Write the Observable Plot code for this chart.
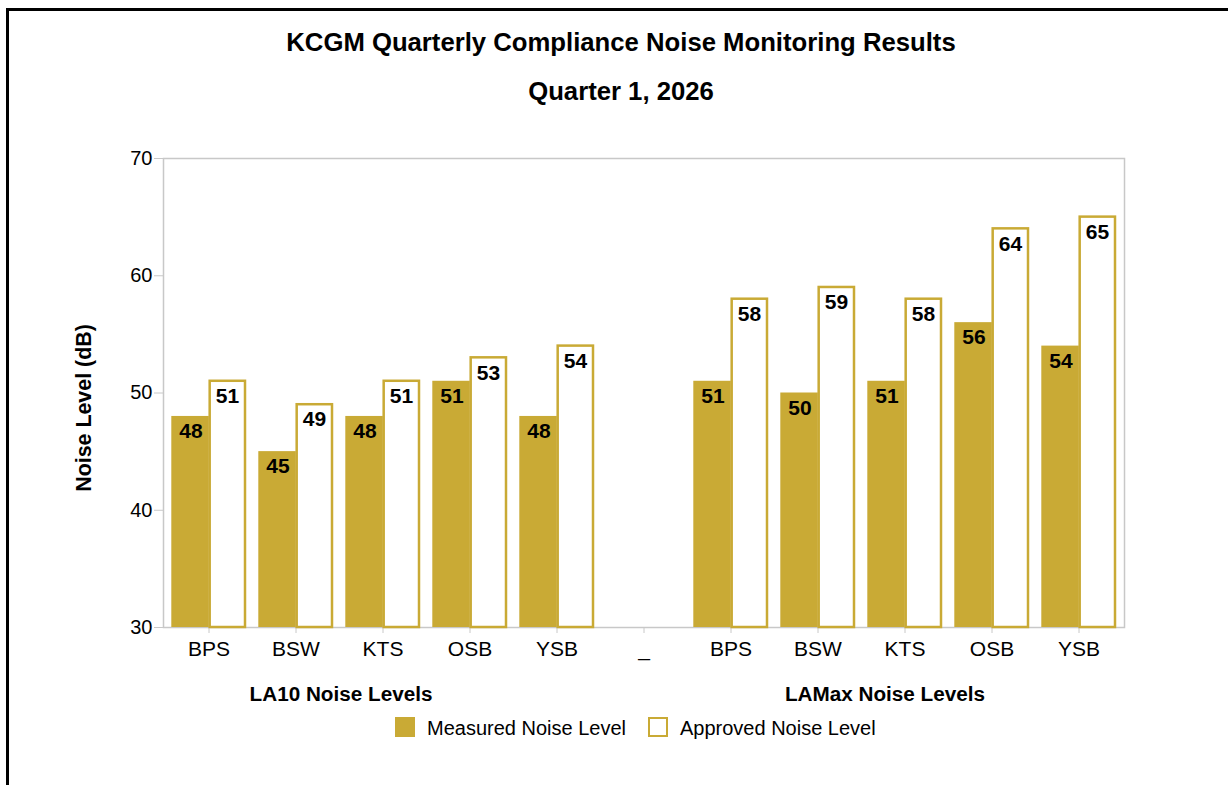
<!DOCTYPE html>
<html>
<head>
<meta charset="utf-8">
<script src="https://cdn.jsdelivr.net/npm/d3@7"></script>
<script src="https://cdn.jsdelivr.net/npm/@observablehq/plot@0.6"></script>
<style>
  html, body { margin: 0; padding: 0; background: #fff; overflow: hidden; }
  #page { position: relative; width: 1228px; height: 785px; overflow: hidden; font-family: "Liberation Sans", Arial, Helvetica, sans-serif; color: #000; }
  #border { position: absolute; left: 6px; top: 8px; width: 1400px; height: 1000px; border: 3px solid #000; box-sizing: border-box; }
  .t { position: absolute; white-space: nowrap; line-height: 1; }
  .title { font-size: 25.7px; font-weight: bold; transform: translateX(-50%); }
  .glabel { font-size: 20.7px; font-weight: bold; transform: translateX(-50%); }
  .ylabel { font-size: 21.4px; font-weight: bold; transform: translate(-50%, -50%) rotate(-90deg); }
  .leg { font-size: 20px; }
  .sw { position: absolute; width: 20px; height: 20px; box-sizing: border-box; }
  #chart { position: absolute; left: 0; top: 0; }
</style>
</head>
<body>
<div id="page">
  <div id="border"></div>
  <div id="chart"></div>
  <div class="t title" style="left:621px; top:30px;">KCGM Quarterly Compliance Noise Monitoring Results</div>
  <div class="t title" style="left:621px; top:79px;">Quarter 1, 2026</div>
  <div class="t ylabel" style="left:85px; top:408px;">Noise Level (dB)</div>
  <div class="t glabel" style="left:341px; top:684px;">LA10 Noise Levels</div>
  <div class="t glabel" style="left:885px; top:684px;">LAMax Noise Levels</div>
  <div class="sw" style="left:395px; top:717px; background:#C9AA35;"></div>
  <div class="t leg" style="left:427px; top:718px;">Measured Noise Level</div>
  <div class="sw" style="left:648px; top:717px; border:2.5px solid #C9AA35; background:#fff;"></div>
  <div class="t leg" style="left:680px; top:718px;">Approved Noise Level</div>
</div>
<script>
// ---- data ----
const sites = ["BPS", "BSW", "KTS", "OSB", "YSB"];
const groups = ["LA10", "LAMax"];
const la10Measured = [48, 45, 48, 51, 48];
const la10Approved = [51, 49, 51, 53, 54];
const lamaxMeasured = [51, 50, 51, 56, 54];
const lamaxApproved = [58, 59, 58, 64, 65];
const separator = "_";
const yDomain = [30, 70];
const yTicks = [30, 40, 50, 60, 70];

// ---- build table ----
const rows = [];
sites.forEach((s, i) => rows.push({ key: groups[0] + "|" + s, measured: la10Measured[i], approved: la10Approved[i] }));
sites.forEach((s, i) => rows.push({ key: groups[1] + "|" + s, measured: lamaxMeasured[i], approved: lamaxApproved[i] }));
const xDomain = [...sites.map(s => groups[0] + "|" + s), separator, ...sites.map(s => groups[1] + "|" + s)];

const gold = "#C9AA35";
const W = 1228, H = 680;
const mL = 163, mR = 104, mT = 158, mB = 53;
const bw = (W - mL - mR) / xDomain.length;

const chart = Plot.plot({
  width: W,
  height: H,
  marginLeft: mL,
  marginRight: mR,
  marginTop: mT,
  marginBottom: mB,
  style: { fontFamily: '"Liberation Sans", Arial, Helvetica, sans-serif', fontSize: "20px", color: "#000", background: "transparent", overflow: "visible" },
  x: { domain: xDomain, padding: 0, label: null },
  y: { domain: yDomain, label: null },
  marks: [
    Plot.frame({ stroke: "#c8c8c8", strokeWidth: 1.5 }),
    Plot.axisY({ ticks: yTicks, tickSize: 9, tickPadding: 2, stroke: "#c8c8c8", fill: "#000", label: null }),
    Plot.axisX({ tickSize: 6, tickPadding: 8, fontSize: 21, stroke: "#c8c8c8", fill: "#000", label: null, tickFormat: d => d.split("|").pop() }),
    Plot.barY(rows, { x: "key", y1: () => yDomain[0], y2: "measured", fill: gold, insetLeft: 6.3, insetRight: bw / 2 - 0.5 }),
    Plot.barY(rows, { x: "key", y1: () => yDomain[0], y2: "approved", fill: "#fff", stroke: gold, strokeWidth: 2.5, insetLeft: bw / 2 + 1, insetRight: 7 }),
    Plot.text(rows, { x: "key", y: "measured", text: "measured", dx: -18, dy: 15, fontSize: 21, fontWeight: "bold", fill: "#000" }),
    Plot.text(rows, { x: "key", y: "approved", text: "approved", dx: 18.5, dy: 15, fontSize: 21, fontWeight: "bold", fill: "#000" })
  ]
});
document.getElementById("chart").appendChild(chart);
</script>
</body>
</html>
